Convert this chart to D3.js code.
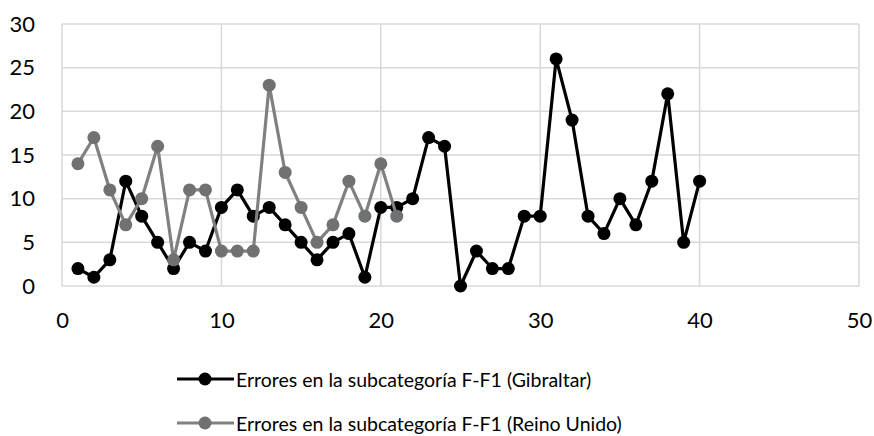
<!DOCTYPE html>
<html>
<head>
<meta charset="utf-8">
<script src="https://cdn.jsdelivr.net/npm/d3@7"></script>
<style>
  body { margin: 0; background: #fff; }
  text { font-family: Lato, "Open Sans", sans-serif; fill: #000; }
</style>
</head>
<body>
<div id="chart"></div>
<script>
// Errores por muestra
const gibraltar = [2, 1, 3, 12, 8, 5, 2, 5, 4, 9, 11, 8, 9, 7, 5, 3, 5, 6, 1, 9,
  9, 10, 17, 16, 0, 4, 2, 2, 8, 8, 26, 19, 8, 6, 10, 7, 12, 22, 5, 12];
const reinoUnido = [14, 17, 11, 7, 10, 16, 3, 11, 11, 4, 4, 4, 23, 13, 9, 5, 7, 12, 8, 14, 8];
const xTicks = [0, 10, 20, 30, 40, 50];
const yTicks = [0, 5, 10, 15, 20, 25, 30];
const seriesNames = [
  "Errores en la subcategoría F-F1 (Gibraltar)",
  "Errores en la subcategoría F-F1 (Reino Unido)"
];

const W = 874, H = 436;
const margin = { top: 24, right: 15, bottom: 150, left: 62 };
const width = W - margin.left - margin.right;
const height = H - margin.top - margin.bottom;

const svg = d3.select("#chart").append("svg")
  .attr("width", W)
  .attr("height", H);

const g = svg.append("g")
  .attr("transform", `translate(${margin.left},${margin.top})`);

const x = d3.scaleLinear().domain([0, 50]).range([0, width]);
const y = d3.scaleLinear().domain([0, 30]).range([height, 0]);

// grid lines
g.append("g").selectAll("line.h")
  .data(yTicks)
  .enter().append("line")
  .attr("x1", 0).attr("x2", width)
  .attr("y1", d => y(d)).attr("y2", d => y(d))
  .attr("stroke", "#d9d9d9").attr("stroke-width", 1.5);

g.append("g").selectAll("line.v")
  .data(xTicks)
  .enter().append("line")
  .attr("x1", d => x(d)).attr("x2", d => x(d))
  .attr("y1", 0).attr("y2", height)
  .attr("stroke", "#d9d9d9").attr("stroke-width", 1.5);

// axes (labels only)
const yAxis = g.append("g")
  .call(d3.axisLeft(y).tickValues(yTicks).tickSize(0).tickPadding(27));
yAxis.select(".domain").remove();
yAxis.selectAll("text").style("font-size", "22px");

const xAxis = g.append("g")
  .attr("transform", `translate(0,${height})`)
  .call(d3.axisBottom(x).tickValues(xTicks).tickSize(0).tickPadding(26));
xAxis.select(".domain").remove();
xAxis.selectAll("text").style("font-size", "22px");

const line = d3.line()
  .x((d, i) => x(i + 1))
  .y(d => y(d));

const series = [
  { values: gibraltar, line: "#000000", dot: "#000000" },
  { values: reinoUnido, line: "#808080", dot: "#707172" }
];

series.forEach(s => {
  g.append("path")
    .datum(s.values)
    .attr("fill", "none")
    .attr("stroke", s.line)
    .attr("stroke-width", 3.2)
    .attr("stroke-linejoin", "round")
    .attr("d", line);

  g.selectAll(null)
    .data(s.values)
    .enter().append("circle")
    .attr("cx", (d, i) => x(i + 1))
    .attr("cy", d => y(d))
    .attr("r", 6.5)
    .attr("fill", s.dot);
});

// legend
const legend = svg.append("g");
const legendRows = [379, 423];
seriesNames.forEach((name, i) => {
  const row = legend.append("g").attr("transform", `translate(0,${legendRows[i]})`);
  row.append("line")
    .attr("x1", 177).attr("x2", 234)
    .attr("stroke", series[i].line)
    .attr("stroke-width", 3.2);
  row.append("circle")
    .attr("cx", 205).attr("r", 6.5)
    .attr("fill", series[i].dot);
  row.append("text")
    .attr("x", 236)
    .attr("y", 8)
    .style("font-size", "19.5px")
    .text(name);
});
</script>
</body>
</html>
